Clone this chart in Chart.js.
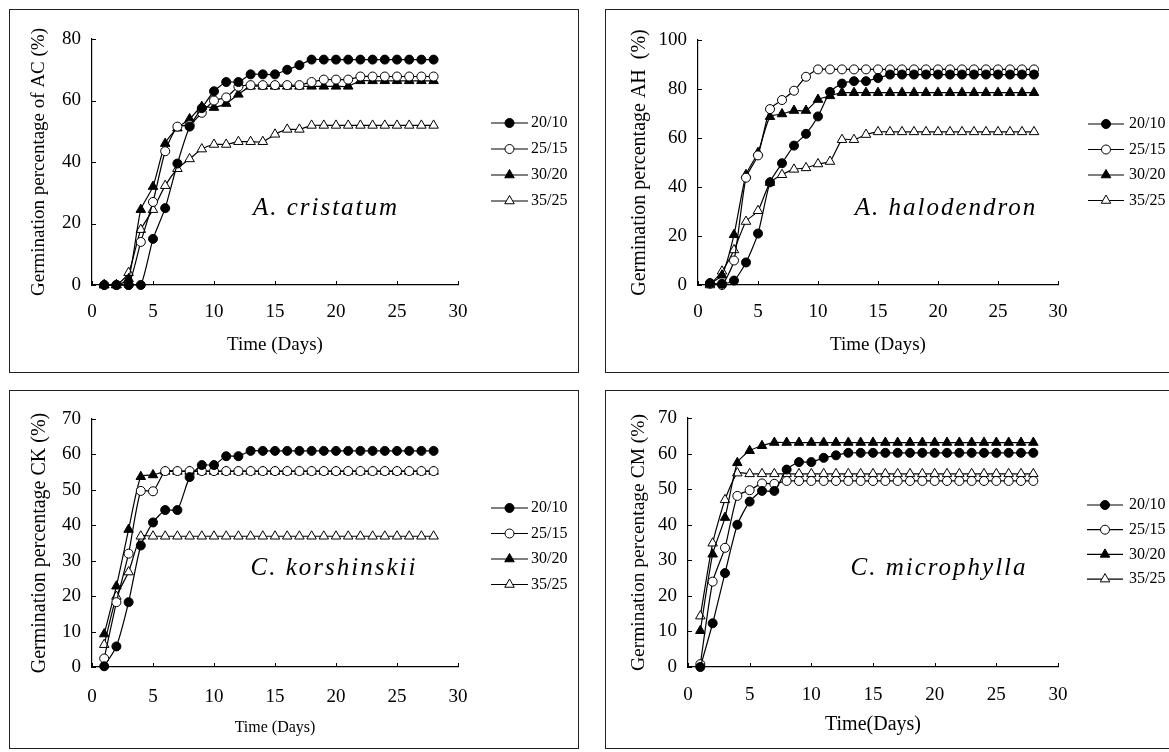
<!DOCTYPE html>
<html>
<head>
<meta charset="utf-8">
<script src="https://cdn.jsdelivr.net/npm/chart.js@4.4.1/dist/chart.umd.min.js"></script>
<style>
  body { margin: 0; background: #fff; width: 1169px; height: 752px; overflow: hidden; position: relative; }
  .box { position: absolute; border: 1.5px solid #222; box-sizing: border-box; }
  canvas { position: absolute; left: 0; top: 0; }
</style>
</head>
<body>
<div class="box" style="left:9px;top:9px;width:570px;height:364px"></div>
<div class="box" style="left:605px;top:9px;width:700px;height:364px"></div>
<div class="box" style="left:9px;top:390px;width:570px;height:359px"></div>
<div class="box" style="left:605px;top:390px;width:700px;height:359px"></div>
<canvas id="chartAC" width="1169" height="752"></canvas>
<canvas id="chartAH" width="1169" height="752"></canvas>
<canvas id="chartCK" width="1169" height="752"></canvas>
<canvas id="chartCM" width="1169" height="752"></canvas>
<script>
// days of the germination test
const days = [1, 2, 3, 4, 5, 6, 7, 8, 9, 10, 11, 12, 13, 14, 15, 16, 17, 18, 19, 20, 21, 22, 23, 24, 25, 26, 27, 28];
const tempLabels = ['20/10', '25/15', '30/20', '35/25'];
const xTicks = [0, 5, 10, 15, 20, 25, 30];

// A. cristatum (AC)
const ac2010 = [0, 0, 0, 0, 15, 25, 39.5, 51.5, 57.5, 63, 66, 66, 68.5, 68.5, 68.5, 70, 71.5, 73.3, 73.3, 73.3, 73.3, 73.3, 73.3, 73.3, 73.3, 73.3, 73.3, 73.3];
const ac2515 = [0, 0, 0, 14, 27, 43.5, 51.5, 52, 56, 60, 61, 64.5, 65, 65, 65, 65, 65, 66, 66.8, 66.8, 66.8, 67.8, 67.8, 67.8, 67.8, 67.8, 67.8, 67.8];
const ac3020 = [0, 0, 2, 24.5, 32, 46, 51, 54, 58, 57.7, 59, 62, 64.6, 64.6, 64.6, 64.6, 64.6, 64.6, 64.6, 64.6, 64.6, 66.4, 66.4, 66.4, 66.4, 66.4, 66.4, 66.4];
const ac3525 = [0, 0, 4, 18, 24.5, 32.3, 37.8, 41, 44.2, 45.7, 45.7, 46.6, 46.6, 46.6, 49, 50.6, 50.6, 51.9, 51.9, 51.9, 51.9, 51.9, 51.9, 51.9, 51.9, 51.9, 51.9, 51.9];

// A. halodendron (AH)
const ah2010 = [0.8, 0.5, 1.8, 9.2, 21, 41.9, 49.7, 56.9, 61.7, 68.8, 78.8, 82.2, 83.2, 83.2, 84.5, 85.9, 85.9, 85.9, 85.9, 85.9, 85.9, 85.9, 85.9, 85.9, 85.9, 85.9, 85.9, 85.9];
const ah2515 = [0.5, 0, 10, 43.8, 52.9, 71.8, 75.5, 79.3, 85, 88, 88, 88, 88, 88, 88, 88, 88, 88, 88, 88, 88, 88, 88, 88, 88, 88, 88, 88];
const ah3020 = [0.5, 4, 20.5, 45, 54, 68.7, 69.8, 71.2, 71.2, 75.7, 77.2, 78.5, 78.5, 78.5, 78.5, 78.5, 78.5, 78.5, 78.5, 78.5, 78.5, 78.5, 78.5, 78.5, 78.5, 78.5, 78.5, 78.5];
const ah3525 = [0, 5.6, 14.3, 25.9, 30.3, 41.8, 45, 47.2, 47.8, 49.4, 50.4, 59.3, 59.3, 61.4, 62.5, 62.5, 62.5, 62.5, 62.5, 62.5, 62.5, 62.5, 62.5, 62.5, 62.5, 62.5, 62.5, 62.5];

// C. korshinskii (CK)
const ck2010 = [0.2, 5.8, 18.3, 34.3, 40.8, 44.3, 44.3, 53.6, 57, 57, 59.5, 59.5, 61, 61, 61, 61, 61, 61, 61, 61, 61, 61, 61, 61, 61, 61, 61, 61];
const ck2515 = [2.4, 18.3, 32, 49.7, 49.6, 55.3, 55.3, 55.3, 55.3, 55.3, 55.3, 55.3, 55.3, 55.3, 55.3, 55.3, 55.3, 55.3, 55.3, 55.3, 55.3, 55.3, 55.3, 55.3, 55.3, 55.3, 55.3, 55.3];
const ck3020 = [9.3, 22.8, 38.8, 53.7, 54.2, 55.2, 55.2, 55.2, 55.2, 55.2, 55.2, 55.2, 55.2, 55.2, 55.2, 55.2, 55.2, 55.2, 55.2, 55.2, 55.2, 55.2, 55.2, 55.2, 55.2, 55.2, 55.2, 55.2];
const ck3525 = [6.3, 19.9, 26.8, 36.9, 36.9, 36.9, 36.9, 36.9, 36.9, 36.9, 36.9, 36.9, 36.9, 36.9, 36.9, 36.9, 36.9, 36.9, 36.9, 36.9, 36.9, 36.9, 36.9, 36.9, 36.9, 36.9, 36.9, 36.9];

// C. microphylla (CM)
const cm2010 = [0, 12.3, 26.4, 40, 46.5, 49.5, 49.5, 55.5, 57.6, 57.6, 58.8, 59.5, 60.2, 60.2, 60.2, 60.2, 60.2, 60.2, 60.2, 60.2, 60.2, 60.2, 60.2, 60.2, 60.2, 60.2, 60.2, 60.2];
const cm2515 = [0.8, 24, 33.5, 48.1, 49.7, 51.6, 51.5, 52.3, 52.3, 52.3, 52.3, 52.3, 52.3, 52.3, 52.3, 52.3, 52.3, 52.3, 52.3, 52.3, 52.3, 52.3, 52.3, 52.3, 52.3, 52.3, 52.3, 52.3];
const cm3020 = [10.2, 31.7, 42, 57.4, 60.8, 62.2, 63.1, 63.1, 63.1, 63.1, 63.1, 63.1, 63.1, 63.1, 63.1, 63.1, 63.1, 63.1, 63.1, 63.1, 63.1, 63.1, 63.1, 63.1, 63.1, 63.1, 63.1, 63.1];
const cm3525 = [14.3, 34.8, 47, 54.5, 54.3, 54.3, 54.3, 54.3, 54.3, 54.3, 54.3, 54.3, 54.3, 54.3, 54.3, 54.3, 54.3, 54.3, 54.3, 54.3, 54.3, 54.3, 54.3, 54.3, 54.3, 54.3, 54.3, 54.3];

const serif = '"Liberation Serif", "Times New Roman", serif';
const markers = [
  { style: 'circle', fill: '#000', r: 4.5 },
  { style: 'circle', fill: '#fff', r: 4.5 },
  { style: 'triangle', fill: '#000', r: 5.5 },
  { style: 'triangle', fill: '#fff', r: 5.5 }
];

// small tick marks pointing into the plot
const innerTicks = {
  id: 'innerTicks',
  beforeDatasetsDraw(chart) {
    const { ctx, chartArea: a, scales: { x, y } } = chart;
    ctx.save();
    ctx.strokeStyle = '#000';
    ctx.lineWidth = 1;
    x.ticks.forEach(t => {
      const px = Math.round(x.getPixelForValue(t.value)) + 0.5;
      ctx.beginPath(); ctx.moveTo(px, a.bottom); ctx.lineTo(px, a.bottom - 4); ctx.stroke();
    });
    y.ticks.forEach(t => {
      const py = Math.round(y.getPixelForValue(t.value)) + 0.5;
      ctx.beginPath(); ctx.moveTo(a.left, py); ctx.lineTo(a.left + 4, py); ctx.stroke();
    });
    ctx.restore();
  }
};

// legend: line with the marker in the middle, label to the right
const sideLegend = {
  id: 'sideLegend',
  afterDraw(chart, args, o) {
    const ctx = chart.ctx;
    ctx.save();
    chart.data.datasets.forEach((ds, i) => {
      const y = o.y + i * o.dy;
      ctx.strokeStyle = '#000';
      ctx.lineWidth = 1.2;
      ctx.beginPath(); ctx.moveTo(o.x, y); ctx.lineTo(o.x + o.len, y); ctx.stroke();
      ctx.fillStyle = ds.pointBackgroundColor;
      ctx.lineWidth = 1;
      Chart.helpers.drawPoint(ctx, { pointStyle: ds.pointStyle, radius: ds.pointRadius, borderWidth: 1, rotation: 0 }, o.x + o.len / 2, y);
      ctx.fillStyle = '#000';
      ctx.font = o.size + 'px ' + serif;
      ctx.textBaseline = 'middle';
      ctx.textAlign = 'left';
      ctx.fillText(ds.label, o.textX, y);
    });
    ctx.restore();
  }
};

// species name in the plot
const speciesLabel = {
  id: 'speciesLabel',
  afterDraw(chart, args, o) {
    const ctx = chart.ctx;
    ctx.save();
    ctx.fillStyle = '#000';
    ctx.font = 'italic 25px ' + serif;
    ctx.letterSpacing = '2px';
    ctx.textAlign = 'center';
    ctx.textBaseline = 'middle';
    ctx.fillText(o.text, o.x, o.y);
    ctx.restore();
  }
};

function makeSets(series) {
  return series.map((vals, i) => ({
    label: tempLabels[i],
    data: days.map((d, j) => ({ x: d, y: vals[j] })),
    borderColor: '#000',
    borderWidth: 1.2,
    pointStyle: markers[i].style,
    pointRadius: markers[i].r,
    pointBackgroundColor: markers[i].fill,
    pointBorderColor: '#000',
    pointBorderWidth: 1,
    tension: 0.2,
    clip: false
  }));
}

function makeChart(id, c) {
  const a = c.area;
  return new Chart(document.getElementById(id), {
    type: 'line',
    data: { datasets: makeSets(c.series) },
    options: {
      responsive: false,
      animation: false,
      events: [],
      layout: { padding: { left: a.left - c.yW, top: a.top, right: 1169 - a.right, bottom: 752 - a.bottom - c.xH } },
      plugins: {
        legend: { display: false },
        tooltip: { enabled: false },
        sideLegend: c.legend,
        speciesLabel: c.label
      },
      scales: {
        x: {
          type: 'linear', min: 0, max: 30,
          afterBuildTicks: s => { s.ticks = xTicks.map(v => ({ value: v })); },
          ticks: { padding: c.xPad, color: '#000', maxRotation: 0, font: { family: serif, size: 19 } },
          grid: { display: false, drawTicks: false },
          border: { display: true, color: '#000', width: 1.2 },
          title: { display: true, text: c.xTitle, color: '#000', padding: 0, font: { family: serif, size: c.xTitleSize } },
          afterFit: s => { s.height = c.xH; }
        },
        y: {
          type: 'linear', min: 0, max: c.yMax,
          ticks: { stepSize: c.yStep, padding: 11, color: '#000', font: { family: serif, size: 19 } },
          grid: { display: false, drawTicks: false },
          border: { display: true, color: '#000', width: 1.2 },
          title: { display: true, text: c.yTitle, color: '#000', padding: 0, font: { family: serif, size: c.yTitleSize } },
          afterFit: s => { s.width = c.yW; }
        }
      }
    },
    plugins: [innerTicks, sideLegend, speciesLabel]
  });
}

makeChart('chartAC', {
  series: [ac2010, ac2515, ac3020, ac3525],
  area: { left: 92, top: 39, right: 458, bottom: 285 },
  yW: 64, xH: 71, xPad: 15.5, yMax: 80, yStep: 20,
  yTitle: 'Germination percentage of AC (%)', yTitleSize: 19,
  xTitle: 'Time (Days)', xTitleSize: 19,
  legend: { x: 491, y: 123, dy: 26, len: 37, textX: 531, size: 16 },
  label: { text: 'A. cristatum', x: 326, y: 208 }
});

makeChart('chartAH', {
  series: [ah2010, ah2515, ah3020, ah3525],
  area: { left: 698, top: 40, right: 1058, bottom: 285 },
  yW: 70, xH: 71, xPad: 15.5, yMax: 100, yStep: 20,
  yTitle: 'Germination percentage AH  (%)', yTitleSize: 20,
  xTitle: 'Time (Days)', xTitleSize: 19,
  legend: { x: 1088, y: 124, dy: 25.5, len: 36, textX: 1129, size: 16 },
  label: { text: 'A. halodendron', x: 946, y: 208 }
});

makeChart('chartCK', {
  series: [ck2010, ck2515, ck3020, ck3525],
  area: { left: 92, top: 419, right: 458, bottom: 667 },
  yW: 64, xH: 70, xPad: 18.5, yMax: 70, yStep: 10,
  yTitle: 'Germination percentage CK (%)', yTitleSize: 20,
  xTitle: 'Time (Days)', xTitleSize: 16,
  legend: { x: 491, y: 508, dy: 25.5, len: 37, textX: 531, size: 16 },
  label: { text: 'C. korshinskii', x: 334, y: 568 }
});

makeChart('chartCM', {
  series: [cm2010, cm2515, cm3020, cm3525],
  area: { left: 688, top: 418, right: 1058, bottom: 667 },
  yW: 61, xH: 70, xPad: 16.5, yMax: 70, yStep: 10,
  yTitle: 'Germination percentage CM (%)', yTitleSize: 19.5,
  xTitle: 'Time(Days)', xTitleSize: 20,
  legend: { x: 1087, y: 505, dy: 24.7, len: 36, textX: 1129, size: 16 },
  label: { text: 'C. microphylla', x: 939, y: 568 }
});
</script>
</body>
</html>
